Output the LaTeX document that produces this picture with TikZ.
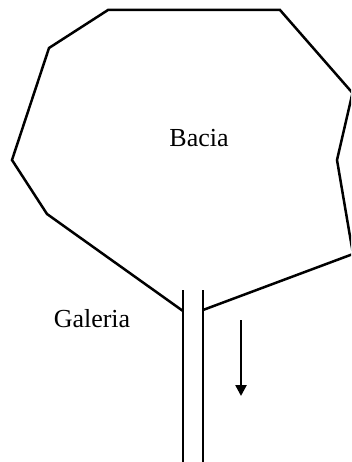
\documentclass[tikz,border=0pt]{standalone}
\usepackage{fontspec}
\setmainfont{Liberation Serif}
\usetikzlibrary{arrows.meta}

\begin{document}
\begin{tikzpicture}[x=1pt,y=-1pt,line width=2.5pt,
                    wall/.style={line cap=butt},
                    label/.style={anchor=base,font=\fontsize{26}{30}\selectfont},
                    flow/.style={-{Triangle[length=11pt,width=11pt]}}]
  \useasboundingbox (0,0) rectangle (351,462);
  \clip (0,0) rectangle (351,462);
  % outline of the basin, open where the gallery leaves it
  \draw[line join=miter] (183,311) -- (47,214) -- (12,160) -- (49,48)
        -- (108,10) -- (280,10) -- (352.5,93) -- (337,160)
        -- (353,254) -- (203,310);
  \coordinate (leftTop) at (183,290);
  \coordinate (leftEnd) at (183,462);
  \coordinate (rightTop) at (203,290);
  \coordinate (rightEnd) at (203,462);
  \draw[wall] (leftTop) -- (leftEnd);
  \draw[wall] (rightTop) -- (rightEnd);
  \node[label] (bacia) at (199,147) {Bacia};
  \node[label] (galeria) at (92,327) {Galeria};
  \coordinate (flowStart) at (241,320);
  \coordinate (flowEnd) at (241,396);
  \draw[flow] (flowStart) -- (flowEnd);
\end{tikzpicture}
\end{document}
